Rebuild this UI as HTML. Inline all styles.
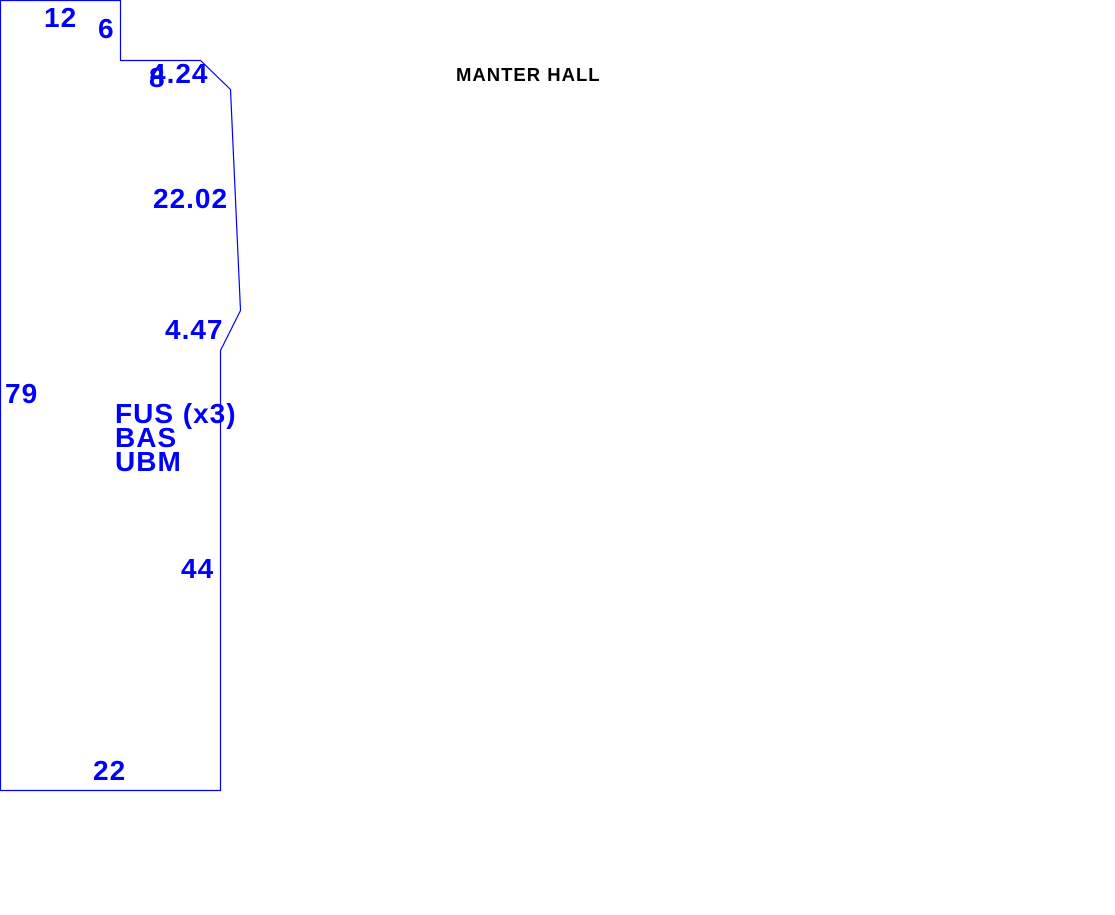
<!DOCTYPE html>
<html><head><meta charset="utf-8"><style>
html,body{margin:0;padding:0;background:#fff;width:1115px;height:915px;overflow:hidden}
svg{display:block}
text{font-family:"Liberation Sans",Arial,sans-serif;font-weight:bold}
.b{fill:#0000ff;font-size:28px;letter-spacing:1px}
</style></head><body>
<svg width="1115" height="915" viewBox="0 0 1115 915" xmlns="http://www.w3.org/2000/svg">
<polygon points="0.5,0.5 120.5,0.5 120.5,60.5 200.5,60.5 230.5,89.5 240.5,310.5 220.5,350.5 220.5,790.5 0.5,790.5" fill="none" stroke="#0000ff" stroke-width="1.2"/>
<text class="b" x="44" y="27">12</text>
<text class="b" x="98" y="38">6</text>
<text class="b" x="149" y="87">8</text>
<text class="b" x="150" y="83">4.24</text>
<text class="b" x="153" y="208">22.02</text>
<text class="b" x="165" y="339">4.47</text>
<text class="b" x="5" y="403">79</text>
<text class="b" x="115" y="423">FUS (x3)</text>
<text class="b" x="115" y="447">BAS</text>
<text class="b" x="115" y="471">UBM</text>
<text class="b" x="181" y="578">44</text>
<text class="b" x="93" y="780">22</text>
<text x="456" y="81" style="font-size:18.5px;letter-spacing:1px;fill:#000">MANTER HALL</text>
</svg>
</body></html>
